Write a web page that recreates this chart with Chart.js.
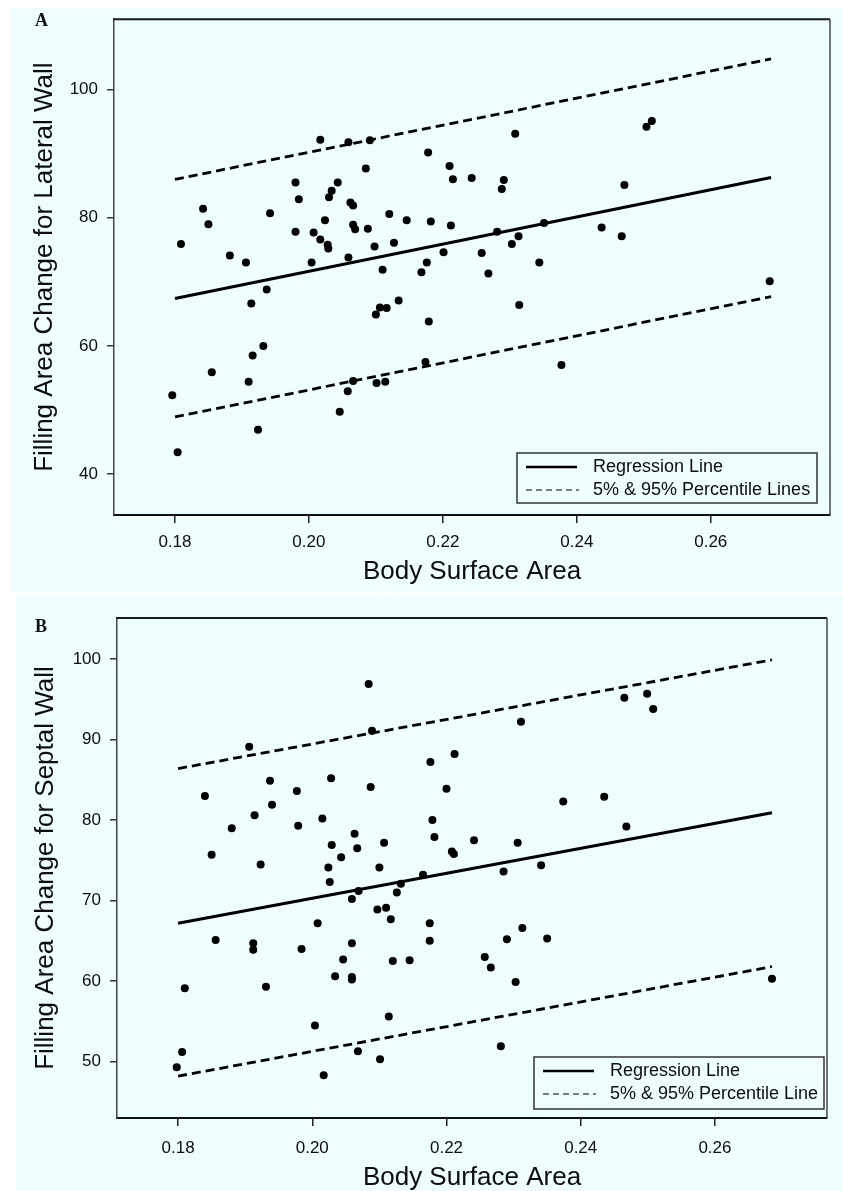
<!DOCTYPE html>
<html><head><meta charset="utf-8">
<script src="https://cdn.jsdelivr.net/npm/chart.js@4.4.1/dist/chart.umd.min.js"></script>
<style>
html,body{margin:0;padding:0;background:#fff;}
body{width:843px;height:1191px;position:relative;overflow:hidden;}
.bg{position:absolute;background:#eefdfe;}
.wrap{position:absolute;left:0;}
canvas{display:block;}
.lab{position:absolute;font:bold 18px 'Liberation Serif','Times New Roman',serif;color:#111;line-height:18px;}
</style></head><body>
<div class="bg" style="left:11px;top:8px;width:832px;height:584px"></div>
<div class="bg" style="left:16px;top:595px;width:827px;height:596px"></div>
<div class="wrap" style="top:0;width:843px;height:593px"><canvas id="cA" width="843" height="593"></canvas></div>
<div class="wrap" style="top:594px;width:843px;height:597px"><canvas id="cB" width="843" height="597"></canvas></div>
<div class="lab" style="left:35px;top:11px">A</div>
<div class="lab" style="left:35px;top:617px">B</div>
<script>
// ---------- Panel A data (Lateral wall) ----------
const bsaA = [0.1796,0.1804,0.1809,0.1842,0.1850,0.1855,0.1882,0.1906,0.1910,0.1914,0.1916,0.1924,0.1932,0.1937,0.1942,0.1980,0.1980,0.1985,0.2004,0.2007,0.2017,0.2017,0.2024,0.2028,0.2029,0.2030,0.2034,0.2043,0.2046,0.2059,0.2059,0.2058,0.2062,0.2066,0.2066,0.2069,0.2066,0.2085,0.2088,0.2091,0.2098,0.2100,0.2101,0.2106,0.2110,0.2114,0.2116,0.2120,0.2127,0.2134,0.2146,0.2168,0.2174,0.2176,0.2178,0.2179,0.2182,0.2201,0.2210,0.2212,0.2215,0.2243,0.2258,0.2268,0.2281,0.2288,0.2291,0.2303,0.2308,0.2313,0.2314,0.2344,0.2351,0.2377,0.2437,0.2467,0.2471,0.2504,0.2512,0.2688];
const lateralA = [52.3,43.4,75.9,81.4,79.0,55.9,74.1,73.0,54.4,66.6,58.5,46.9,60.0,68.8,80.7,85.5,77.8,82.9,73.0,77.7,76.6,92.2,79.6,75.8,75.2,83.2,84.2,85.5,49.7,91.8,73.8,52.9,82.4,81.9,78.9,78.2,54.5,87.7,78.3,92.1,75.5,64.9,54.2,66.0,71.9,54.4,65.9,80.6,76.1,67.1,79.6,71.5,57.5,73.0,90.2,63.8,79.4,74.6,88.1,78.8,86.0,86.2,74.5,71.3,77.8,84.5,85.9,75.9,93.1,77.1,66.4,73.0,79.2,57.0,78.5,77.1,85.1,94.2,95.1,70.1];
const lineXA = [0.180, 0.269];
const regA = [67.4, 86.3];
const p95A = [86.0, 104.8];
const p5A = [48.9, 67.7];
const yTicksA = [40, 60, 80, 100];
const yTitleA = 'Filling Area Change for Lateral Wall';
const legendA = ['Regression Line', '5% & 95% Percentile Lines'];

// ---------- Panel B data (Septal wall) ----------
const bsaB = [0.1798,0.1806,0.1810,0.1840,0.1850,0.1856,0.1880,0.1906,0.1914,0.1912,0.1912,0.1923,0.1931,0.1937,0.1940,0.1977,0.1979,0.1984,0.2004,0.2008,0.2015,0.2017,0.2024,0.2026,0.2028,0.2029,0.2034,0.2043,0.2046,0.2059,0.2059,0.2059,0.2059,0.2063,0.2067,0.2068,0.2069,0.2084,0.2087,0.2089,0.2097,0.2100,0.2101,0.2107,0.2110,0.2114,0.2117,0.2120,0.2126,0.2132,0.2145,0.2165,0.2175,0.2175,0.2176,0.2179,0.2182,0.2200,0.2208,0.2211,0.2212,0.2241,0.2257,0.2266,0.2281,0.2285,0.2290,0.2303,0.2306,0.2311,0.2313,0.2341,0.2350,0.2374,0.2435,0.2465,0.2468,0.2499,0.2508,0.2685];
const septalB = [49.3,51.2,59.1,83.0,75.7,65.1,79.0,89.1,80.6,64.7,63.9,74.5,59.3,84.9,81.9,83.6,79.3,64.0,54.5,67.2,80.2,48.3,74.1,72.3,85.2,76.9,60.6,75.4,62.7,64.7,60.5,60.2,70.2,78.3,76.5,51.3,71.2,96.9,84.1,91.1,68.9,74.1,50.3,77.2,69.1,55.6,67.7,62.5,71.0,72.1,62.6,73.2,65.0,67.2,87.2,80.0,77.9,83.9,76.1,75.8,88.2,77.5,63.0,61.7,51.9,73.6,65.2,59.9,77.2,92.2,66.6,74.4,65.3,82.3,82.9,95.2,79.2,95.7,93.8,60.3];
const lineXB = [0.180, 0.2685];
const regB = [67.2, 80.9];
const p95B = [86.4, 99.9];
const p5B = [48.2, 61.8];
const yTicksB = [50, 60, 70, 80, 90, 100];
const yTitleB = 'Filling Area Change for Septal Wall';
const legendB = ['Regression Line', '5% & 95% Percentile Line'];

// ---------- shared ----------
const xTicks = [0.18, 0.20, 0.22, 0.24, 0.26];
const xTickLabels = ['0.18', '0.20', '0.22', '0.24', '0.26'];
const xTitle = 'Body Surface Area';

const SANS = "'Liberation Sans', Arial, Helvetica, sans-serif";

const framePlugin = {
  id: 'frame',
  afterDraw(chart, args, o) {
    const {ctx, chartArea: a} = chart;
    ctx.save();
    ctx.strokeStyle = '#1a1a1a';
    ctx.lineWidth = 2;
    ctx.beginPath();
    ctx.moveTo(a.left - 1, a.top); ctx.lineTo(a.right, a.top);
    ctx.stroke();
    ctx.strokeStyle = '#444';
    ctx.lineWidth = 1.5;
    ctx.beginPath();
    ctx.moveTo(a.right, a.top); ctx.lineTo(a.right, a.bottom);
    ctx.stroke();
    const bw = o.boxW, bh = o.boxH;
    const bx = a.right - o.offR - bw, by = a.bottom - o.offB - bh;
    ctx.strokeStyle = '#333';
    ctx.lineWidth = 1.5;
    ctx.strokeRect(bx, by, bw, bh);
    ctx.strokeStyle = '#000';
    ctx.lineWidth = 2.6;
    ctx.beginPath();
    ctx.moveTo(bx + 9, by + 14); ctx.lineTo(bx + 60, by + 14);
    ctx.stroke();
    ctx.lineWidth = 1;
    ctx.setLineDash([6, 4]);
    ctx.beginPath();
    ctx.moveTo(bx + 9, by + 37); ctx.lineTo(bx + 62, by + 37);
    ctx.stroke();
    ctx.setLineDash([]);
    ctx.fillStyle = '#0d0d0d';
    ctx.font = "18px " + SANS;
    ctx.textBaseline = 'middle';
    ctx.textAlign = 'left';
    ctx.fillText(o.labels[0], bx + 76, by + 14);
    ctx.fillText(o.labels[1], bx + 76, by + 37);
    ctx.restore();
  }
};

function makeChart(id, xs, ys, lx, reg, p95, p5, yMin, yMax, xMin, xMax, yTicks, yTitle, legendLabels, geo) {
  const pts = xs.map((x, i) => ({x: x, y: ys[i]}));
  const line = arr => lx.map((x, i) => ({x: x, y: arr[i]}));
  return new Chart(document.getElementById(id), {
    type: 'scatter',
    data: {
      datasets: [
        {label: 'data', data: pts, pointRadius: 4, pointBackgroundColor: '#000', pointBorderWidth: 0, showLine: false},
        {label: legendLabels[0], data: line(reg), showLine: true, pointRadius: 0, borderColor: '#000', borderWidth: 3},
        {label: legendLabels[1], data: line(p95), showLine: true, pointRadius: 0, borderColor: '#000', borderWidth: 2.8, borderDash: [9, 5]},
        {label: legendLabels[1] + ' (5%)', data: line(p5), showLine: true, pointRadius: 0, borderColor: '#000', borderWidth: 2.8, borderDash: [9, 5]}
      ]
    },
    options: {
      responsive: false,
      animation: false,
      events: [],
      layout: {padding: {left: 0, top: geo.top, right: geo.right, bottom: 0}},
      plugins: {
        legend: {display: false},
        tooltip: {enabled: false},
        frame: {labels: legendLabels, boxW: geo.boxW, boxH: geo.boxH, offR: geo.offR, offB: geo.offB}
      },
      scales: {
        x: {
          type: 'linear', min: xMin, max: xMax,
          afterFit: s => { s.height = geo.xH; },
          afterBuildTicks: s => { s.ticks = xTicks.map(v => ({value: v})); },
          ticks: {callback: (v, i) => xTickLabels[i], color: '#0d0d0d', font: {family: SANS, size: 17}, padding: geo.xTickPad, maxRotation: 0, autoSkip: false},
          grid: {display: true, drawOnChartArea: false, drawTicks: true, tickLength: 8, color: '#222', lineWidth: 1.5},
          border: {display: true, color: '#111', width: 2},
          title: {display: true, text: xTitle, color: '#0d0d0d', font: {family: SANS, size: 26, lineHeight: 1}, padding: {top: 0, bottom: geo.xTitlePad}}
        },
        y: {
          type: 'linear', min: yMin, max: yMax,
          afterFit: s => { s.width = geo.yW; },
          afterBuildTicks: s => { s.ticks = yTicks.map(v => ({value: v})); },
          ticks: {color: '#0d0d0d', font: {family: SANS, size: 17}, padding: 9, autoSkip: false},
          grid: {display: true, drawOnChartArea: false, drawTicks: true, tickLength: 7, color: '#333', lineWidth: 1.5},
          border: {display: true, color: '#444', width: 1.5},
          title: {display: true, text: yTitle, color: '#0d0d0d', font: {family: SANS, size: 26, lineHeight: 1}, padding: {top: geo.yTitlePad, bottom: 0}}
        }
      }
    },
    plugins: [framePlugin]
  });
}

makeChart('cA', bsaA, lateralA, lineXA, regA, p95A, p5A, 33.6, 111.0, 0.1709, 0.2778, yTicksA, yTitleA, legendA,
  {top: 11, right: 13, yW: 114, xH: 78, xTitlePad: 8, yTitlePad: 32, xTickPad: 9, boxW: 300, boxH: 50, offR: 13, offB: 12});
makeChart('cB', bsaB, septalB, lineXB, regB, p95B, p5B, 43.0, 105.1, 0.1709, 0.2767, yTicksB, yTitleB, legendB,
  {top: 24, right: 16, yW: 117, xH: 73, xTitlePad: 0, yTitlePad: 33, xTickPad: 12, boxW: 290, boxH: 52, offR: 3, offB: 9});
</script>
</body></html>
